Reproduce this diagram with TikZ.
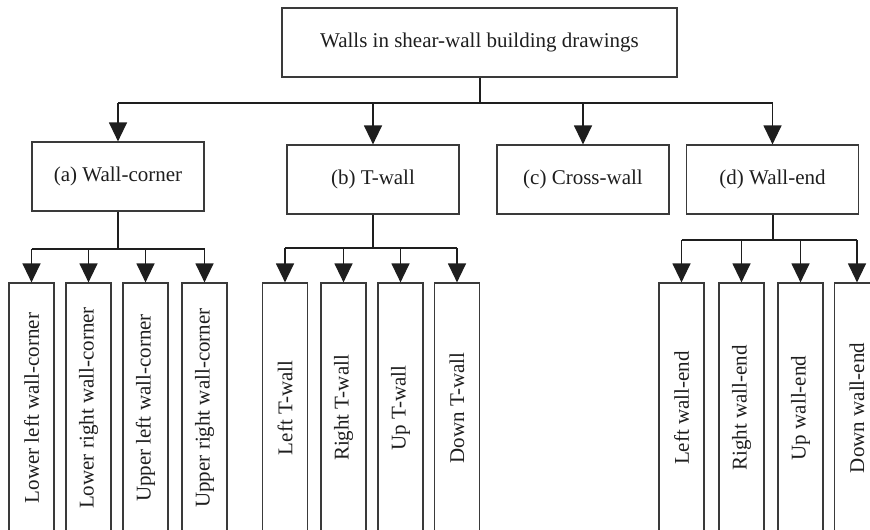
\documentclass[tikz,border=0pt]{standalone}
\usepackage{fontspec}
\setmainfont{Liberation Serif}
\usetikzlibrary{arrows.meta}
\definecolor{ink}{HTML}{1E1E1E}
\definecolor{edge}{HTML}{3A3A3A}
\tikzset{
  box/.style={draw=edge, line width=1.2pt, text=ink, inner sep=0pt, font=\fontsize{21}{24}\selectfont},
  topbox/.style={box, minimum width=395pt, minimum height=69pt},
  midbox/.style={box, minimum width=172pt, minimum height=69pt},
  leafbox/.style={box, minimum width=45pt, minimum height=250pt},
  stem/.style={draw=ink, line width=2pt},
  bar/.style={draw=ink, line width=1.6pt},
  arr/.style={draw=ink, line width=1.3pt, -{Triangle[width=18pt,length=19pt]}},
}
\newcommand{\vtext}[1]{\rotatebox{90}{#1}}
\begin{document}
\begin{tikzpicture}[x=1pt,y=-1pt]
\useasboundingbox (0,0) rectangle (870,530);
\clip (0,0) rectangle (870,530);
% top
\node[topbox] (top) at (479.5,42.5) {Walls in shear-wall building drawings};
% level 2
\node[midbox] (a) at (118,176.5) {(a) Wall-corner};
\node[midbox] (b) at (373,179.5) {(b) T-wall};
\node[midbox] (c) at (583,179.5) {(c) Cross-wall};
\node[midbox] (d) at (772.5,179.5) {(d) Wall-end};
% leaves
\node[leafbox] (a1) at (31.5,408) {\vtext{Lower left wall-corner}};
\node[leafbox] (a2) at (88.5,408) {\vtext{Lower right wall-corner}};
\node[leafbox] (a3) at (145.5,408) {\vtext{Upper left wall-corner}};
\node[leafbox] (a4) at (204.5,408) {\vtext{Upper right wall-corner}};
\node[leafbox] (b1) at (285,408) {\vtext{Left T-wall}};
\node[leafbox] (b2) at (343.5,408) {\vtext{Right T-wall}};
\node[leafbox] (b3) at (400.5,408) {\vtext{Up T-wall}};
\node[leafbox] (b4) at (457,408) {\vtext{Down T-wall}};
\node[leafbox] (d1) at (681.5,408) {\vtext{Left wall-end}};
\node[leafbox] (d2) at (741.5,408) {\vtext{Right wall-end}};
\node[leafbox] (d3) at (800.5,408) {\vtext{Up wall-end}};
\node[leafbox] (d4) at (857,408) {\vtext{Down wall-end}};
% bar coordinates
\coordinate (ybar) at (0,103);
\coordinate (ya) at (0,249);
\coordinate (yb) at (0,248);
\coordinate (yd) at (0,240);
% top to level 2
\draw[stem] (top.south) -- (top.south |- ybar);
\draw[bar] (a.north |- ybar) -- (d.north |- ybar);
\foreach \n in {a,b,c,d}{\draw[arr] (\n.north |- ybar) -- (\n.north);}
% a children
\draw[stem] (a.south) -- (a.south |- ya);
\draw[bar] (a1.north |- ya) -- (a4.north |- ya);
\foreach \n in {a1,a2,a3,a4}{\draw[arr] (\n.north |- ya) -- (\n.north);}
% b children
\draw[stem] (b.south) -- (b.south |- yb);
\draw[bar] (b1.north |- yb) -- (b4.north |- yb);
\foreach \n in {b1,b2,b3,b4}{\draw[arr] (\n.north |- yb) -- (\n.north);}
% d children
\draw[stem] (d.south) -- (d.south |- yd);
\draw[bar] (d1.north |- yd) -- (d4.north |- yd);
\foreach \n in {d1,d2,d3,d4}{\draw[arr] (\n.north |- yd) -- (\n.north);}
\end{tikzpicture}
\end{document}
